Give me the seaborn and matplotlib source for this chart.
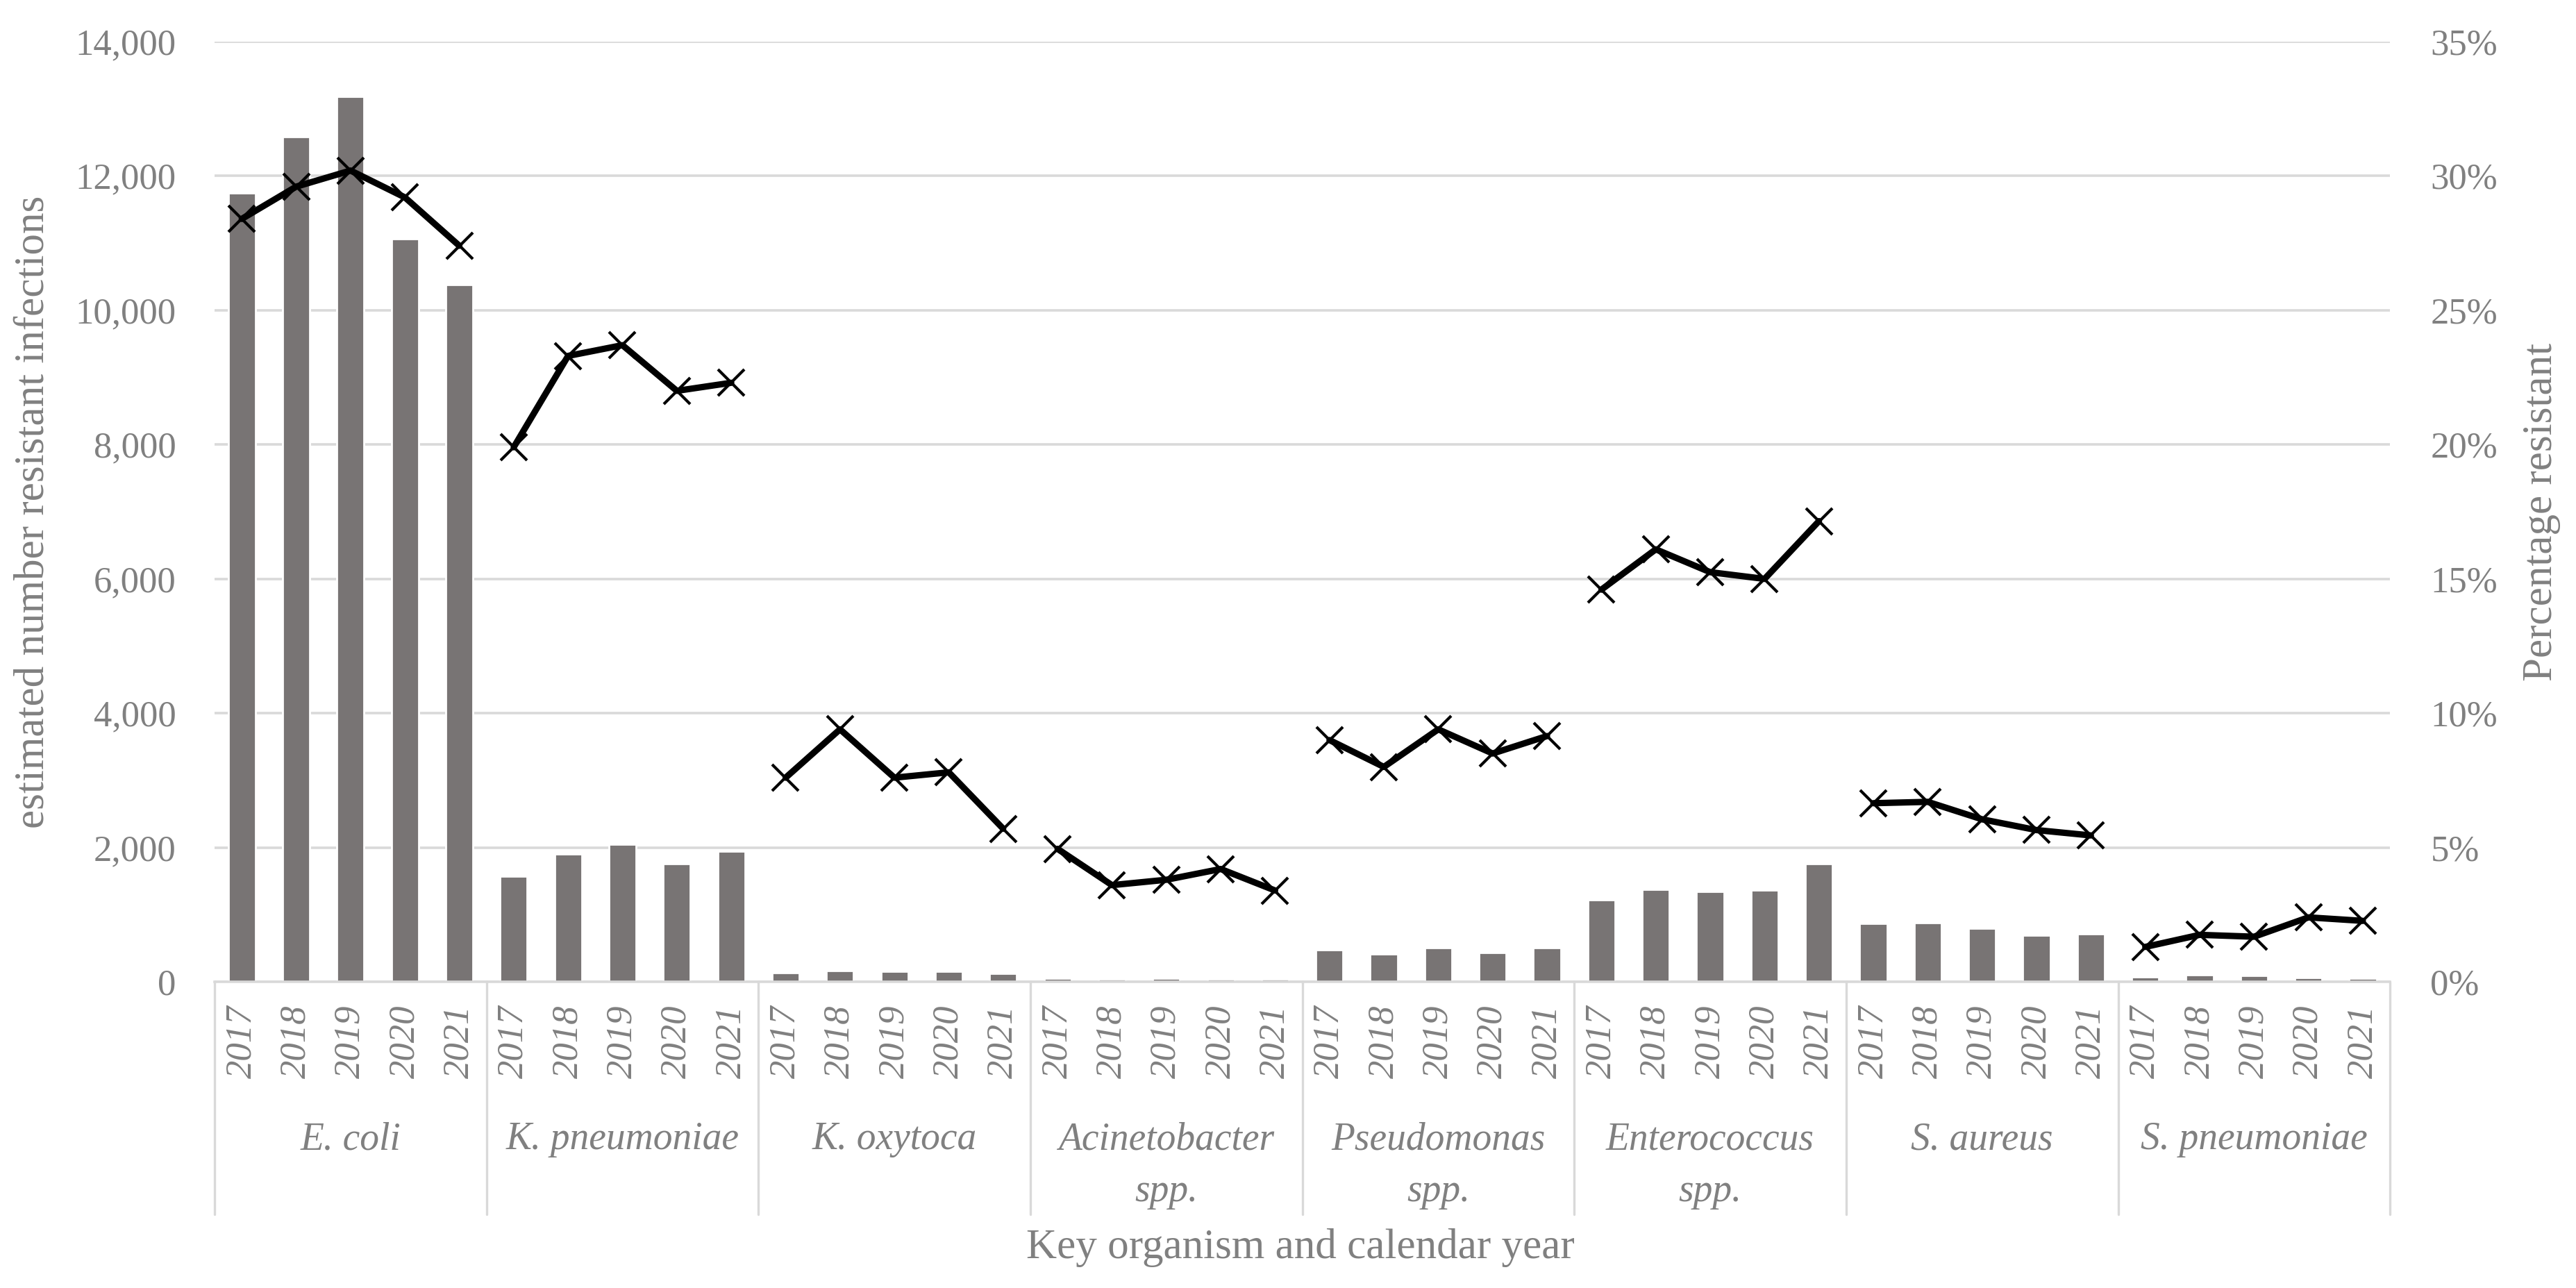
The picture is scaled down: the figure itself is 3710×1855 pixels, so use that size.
import numpy as np
import pandas as pd
import matplotlib
matplotlib.use("Agg")
import matplotlib.pyplot as plt
import matplotlib.ticker as mticker
import matplotlib.transforms as mtransforms
import seaborn as sns

# ---------------- data ----------------
organisms = ["E. coli", "K. pneumoniae", "K. oxytoca", "Acinetobacter\nspp.",
             "Pseudomonas\nspp.", "Enterococcus\nspp.", "S. aureus", "S. pneumoniae"]
years = ["2017", "2018", "2019", "2020", "2021"]

resistant_counts = [
    11750, 12580, 13180, 11060, 10380,   # E. coli
    1575, 1905, 2050, 1755, 1945,        # K. pneumoniae
    135, 170, 152, 158, 127,             # K. oxytoca
    52, 44, 52, 44, 44,                  # Acinetobacter spp.
    475, 413, 505, 431, 505,             # Pseudomonas spp.
    1222, 1380, 1349, 1367, 1758,        # Enterococcus spp.
    866, 884, 800, 694, 717,             # S. aureus
    75, 105, 97, 66, 53,                 # S. pneumoniae
]
percent_resistant = [
    28.4, 29.6, 30.2, 29.2, 27.4,        # E. coli
    19.9, 23.3, 23.7, 22.0, 22.3,        # K. pneumoniae
    7.6, 9.4, 7.6, 7.8, 5.7,             # K. oxytoca
    4.95, 3.6, 3.8, 4.2, 3.4,            # Acinetobacter spp.
    9.0, 8.0, 9.4, 8.5, 9.15,            # Pseudomonas spp.
    14.6, 16.1, 15.25, 15.0, 17.15,      # Enterococcus spp.
    6.65, 6.7, 6.05, 5.65, 5.45,         # S. aureus
    1.3, 1.75, 1.68, 2.4, 2.27,          # S. pneumoniae
]

left_ticks = [0, 2000, 4000, 6000, 8000, 10000, 12000, 14000]
right_ticks = [0, 5, 10, 15, 20, 25, 30, 35]

# ---------------- table ----------------
rows = []
for gi, org in enumerate(organisms):
    for yi, yr in enumerate(years):
        idx = gi * len(years) + yi
        rows.append({"organism": org, "year": yr,
                     "key": f"{org.replace(chr(10), ' ')} {yr}",
                     "pos": idx,
                     "count": resistant_counts[idx],
                     "pct": percent_resistant[idx]})
df = pd.DataFrame(rows)
n = len(df)
ny = len(years)

# ---------------- style ----------------
sns.set_theme(style="white")
plt.rcParams["font.family"] = ["Liberation Serif", "DejaVu Serif"]
TXT = "#808080"
GRID = "#d9d9d9"
BAR = "#787474"
FS = 19
TFS = 22

fig = plt.figure(figsize=(18.55, 9.275), dpi=200)
ax = fig.add_axes([0.0833, 0.2377, 0.8445, 0.7300])

sns.barplot(data=df, x="key", y="count", order=list(df["key"]), color=BAR,
            saturation=1, width=0.5, errorbar=None, ax=ax)
ax.set_xlim(-0.5, n - 0.5)
ax.set_ylim(left_ticks[0], left_ticks[-1])
ax.set_yticks(left_ticks)
ax.yaxis.set_major_formatter(mticker.FuncFormatter(lambda v, p: f"{int(v):,}"))
ax.set_axisbelow(True)
ax.yaxis.grid(True, color=GRID, lw=1.3)
ax.xaxis.grid(False)
for s in ["top", "right", "left"]:
    ax.spines[s].set_visible(False)
ax.spines["bottom"].set_color(GRID)
ax.spines["bottom"].set_linewidth(1.3)

ax.set_xticks(range(n))
ax.set_xticklabels(list(df["year"]), rotation=90, fontstyle="italic",
                   fontsize=FS, color=TXT, va="top", ha="center")
ax.tick_params(axis="x", length=0, pad=12)
ax.tick_params(axis="y", length=0, pad=20, labelsize=FS, labelcolor=TXT)
ax.set_xlabel("")
ax.set_ylabel("estimated number resistant infections", fontsize=TFS, color=TXT)
ax.yaxis.set_label_coords(-0.0747, 0.5)

# secondary axis with lines
ax2 = ax.twinx()
sns.lineplot(data=df, x="pos", y="pct", units="organism", estimator=None,
             sort=False, color="black", lw=3.3, marker="x", markersize=13.5,
             markeredgewidth=1.5, markeredgecolor="black", legend=False, ax=ax2)
ax2.set_xlim(-0.5, n - 0.5)
ax2.set_ylim(right_ticks[0], right_ticks[-1])
ax2.set_yticks(right_ticks)
ax2.yaxis.set_major_formatter(mticker.FuncFormatter(lambda v, p: f"{int(v)}%"))
ax2.grid(False)
for s in ["top", "right", "left", "bottom"]:
    ax2.spines[s].set_visible(False)
ax2.tick_params(axis="y", length=0, pad=21, labelsize=FS, labelcolor=TXT)
ax2.set_xlabel("")
ax2.set_ylabel("Percentage resistant", fontsize=TFS, color=TXT, rotation=90)
ax2.yaxis.set_label_coords(1.0606, 0.5)

# group separators and organism labels
trans = mtransforms.blended_transform_factory(ax.transData, ax.transAxes)
sep_bottom = -0.247
for g in range(len(organisms) + 1):
    xb = g * ny - 0.5
    ax.plot([xb, xb], [0, sep_bottom], transform=trans, color=GRID,
            lw=1.2, clip_on=False, zorder=3)
y0 = -0.1677
dy = 0.0555
for g, org in enumerate(organisms):
    xc = g * ny + (ny - 1) / 2
    for li, line in enumerate(org.split("\n")):
        ax.text(xc, y0 - li * dy, line, transform=trans, ha="center",
                va="center", fontsize=FS + 1, fontstyle="italic", color=TXT)

fig.text(0.5047, 0.0313, "Key organism and calendar year", ha="center",
         va="center", fontsize=TFS, color=TXT)

fig.savefig("out.png", dpi=200, facecolor="white")
